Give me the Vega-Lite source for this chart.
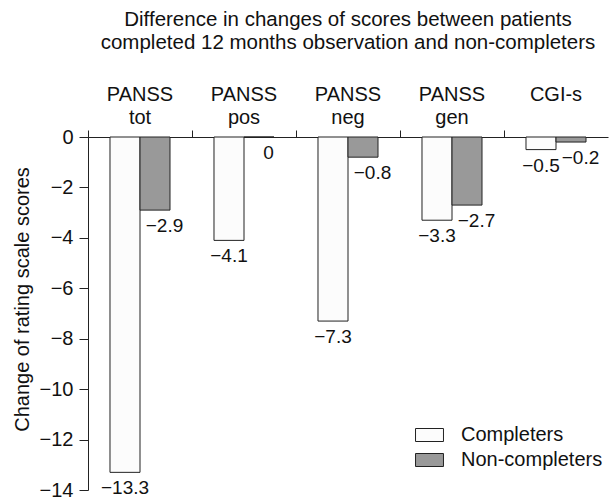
{
  "$schema": "https://vega.github.io/schema/vega-lite/v6.json",
  "width": 520,
  "height": 353,
  "autosize": {"type": "none"},
  "padding": {"left": 88, "top": 137, "right": 3, "bottom": 11},
  "background": "white",
  "config": {
    "font": "Liberation Sans",
    "view": {"stroke": null}
  },
  "title": {
    "text": ["Difference in changes of scores between patients", "completed 12 months observation and non-completers"],
    "fontSize": 20.5,
    "fontWeight": "normal",
    "color": "#111",
    "lineHeight": 23,
    "anchor": "middle",
    "offset": 31
  },
  "data": {
    "values": [
      {"category": "PANSS tot", "series": "Completers", "value": -13.3},
      {"category": "PANSS tot", "series": "Non-completers", "value": -2.9},
      {"category": "PANSS pos", "series": "Completers", "value": -4.1},
      {"category": "PANSS pos", "series": "Non-completers", "value": 0},
      {"category": "PANSS neg", "series": "Completers", "value": -7.3},
      {"category": "PANSS neg", "series": "Non-completers", "value": -0.8},
      {"category": "PANSS gen", "series": "Completers", "value": -3.3},
      {"category": "PANSS gen", "series": "Non-completers", "value": -2.7},
      {"category": "CGI-s", "series": "Completers", "value": -0.5},
      {"category": "CGI-s", "series": "Non-completers", "value": -0.2}
    ]
  },
  "encoding": {
    "x": {
      "field": "category",
      "type": "nominal",
      "sort": null,
      "scale": {"paddingInner": 0, "paddingOuter": 0},
      "axis": {
        "orient": "top",
        "title": null,
        "bandPosition": 0,
        "labelAngle": 0,
        "labelExpr": "split(datum.label, ' ')",
        "labelFontSize": 20,
        "labelColor": "#111",
        "labelLineHeight": 23,
        "labelBaseline": "top",
        "labelPadding": 46,
        "tickSize": 7,
        "tickColor": "#222",
        "domainColor": "#222",
        "labelBound": false,
        "labelOverlap": false
      }
    },
    "xOffset": {
      "field": "series",
      "type": "nominal",
      "scale": {"paddingInner": 0, "paddingOuter": 0.733}
    },
    "y": {
      "field": "value",
      "type": "quantitative",
      "scale": {"domain": [-14, 0], "nice": false},
      "axis": {
        "title": "Change of rating scale scores",
        "titleFontSize": 20,
        "titleFontWeight": "normal",
        "titleColor": "#111",
        "titlePadding": 7,
        "titleY": 162,
        "values": [0, -2, -4, -6, -8, -10, -12, -14],
        "labelFontSize": 20,
        "labelColor": "#111",
        "labelPadding": 6,
        "tickSize": 9,
        "tickColor": "#222",
        "domainColor": "#222",
        "grid": false
      }
    }
  },
  "layer": [
    {
      "mark": {"type": "bar", "stroke": "#222", "strokeWidth": 1},
      "encoding": {
        "fill": {
          "field": "series",
          "type": "nominal",
          "scale": {"domain": ["Completers", "Non-completers"], "range": ["#fcfcfc", "#999999"]},
          "legend": {
            "title": null,
            "orient": "none",
            "legendX": 331.5,
            "legendY": 288,
            "symbolType": "M-2.15,-1H2.15V1H-2.15Z",
            "symbolSize": 169,
            "symbolStrokeColor": "#222",
            "symbolStrokeWidth": 1,
            "labelFontSize": 20,
            "labelColor": "#111",
            "labelOffset": 21.5,
            "rowPadding": 5
          }
        }
      }
    },
    {
      "transform": [{"filter": "datum.series == 'Completers'"}],
      "mark": {"type": "text", "baseline": "middle", "dy": 16, "fontSize": 19, "color": "#111"},
      "encoding": {"text": {"field": "value", "type": "quantitative", "format": "~g"}}
    },
    {
      "transform": [{"filter": "datum.series == 'Non-completers'"}],
      "mark": {"type": "text", "baseline": "middle", "dy": 16, "dx": 9.5, "fontSize": 19, "color": "#111"},
      "encoding": {"text": {"field": "value", "type": "quantitative", "format": "~g"}}
    }
  ]
}
